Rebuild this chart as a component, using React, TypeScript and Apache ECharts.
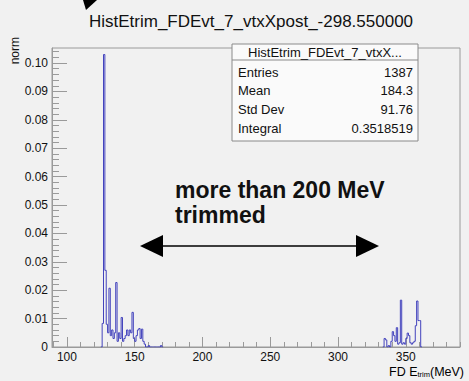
import React, { useEffect, useRef } from 'react';
import * as echarts from 'echarts';

const chartTitle = 'HistEtrim_FDEvt_7_vtxXpost_-298.550000';
const statsTitle = 'HistEtrim_FDEvt_7_vtxX...';
const statsLabels = ['Entries', 'Mean', 'Std Dev', 'Integral'];
const statsValues = ['1387', '184.3', '91.76', '0.3518519'];
const yAxisTitle = 'norm';
const annotationLines = ['more than 200 MeV', 'trimmed'];

const xMin = 89;
const xMax = 390;
const yMin = 0;
const yMax = 0.1053;

const xTicks = [100, 150, 200, 250, 300, 350];
const xMinorTicks = [90, 100, 110, 120, 130, 140, 150, 160, 170, 180, 190, 200, 210, 220, 230, 240, 250, 260, 270, 280, 290, 300, 310, 320, 330, 340, 350, 360, 370, 380, 390];
const yTicks = [0, 0.01, 0.02, 0.03, 0.04, 0.05, 0.06, 0.07, 0.08, 0.09, 0.1];
const yTickLabels = ['0', '0.01', '0.02', '0.03', '0.04', '0.05', '0.06', '0.07', '0.08', '0.09', '0.10'];
const yMinorTicks = [0.002, 0.004, 0.006, 0.008, 0.012, 0.014, 0.016, 0.018, 0.022, 0.024, 0.026, 0.028, 0.032, 0.034, 0.036, 0.038, 0.042, 0.044, 0.046, 0.048, 0.052, 0.054, 0.056, 0.058, 0.062, 0.064, 0.066, 0.068, 0.072, 0.074, 0.076, 0.078, 0.082, 0.084, 0.086, 0.088, 0.092, 0.094, 0.096, 0.098, 0.102, 0.104];

// histogram bins (1 MeV wide)
const binWidth = 1;
const leftStart = 125;
const leftVals = [
  0, 0.0083, 0.103, 0.027, 0.008, 0.005, 0.0207, 0.004, 0.006, 0.003,
  0.005, 0.0227, 0.002, 0.005, 0.003, 0.0104, 0.002, 0.003, 0.004, 0.006,
  0.004, 0.006, 0.005, 0.0122, 0.003, 0.002, 0.004, 0.006, 0.0065, 0.003,
  0.0063, 0.002, 0.001, 0, 0, 0.0005, 0, 0, 0, 0,
  0, 0, 0, 0, 0.0005, 0,
];
const rightStart = 333;
const rightVals = [
  0, 0.003, 0.0025, 0, 0.0005, 0, 0.002, 0.0054, 0.004, 0.002,
  0.0068, 0.001, 0.0015, 0.0165, 0.001, 0.0015, 0.001, 0.003, 0.0049, 0.004,
  0.0015, 0.001, 0.0015, 0.002, 0.0075, 0.0162, 0.0093, 0.0093, 0,
];

const FONT = 'Liberation Sans, Arial, Helvetica, sans-serif';
const HIST_COLOR = '#4343bd';
const FRAME = '#9a9a9a';
const BG = '#f1f1f1';

function toSteps(start: number, vals: number[]) {
  const pts: number[][] = vals.map((v, i) => [start + i * binWidth, v]);
  pts.push([start + vals.length * binWidth, 0]);
  return pts;
}

export default function App() {
  const ref = useRef<HTMLDivElement>(null);
  useEffect(() => {
    document.body.style.margin = '0';
    const chart = echarts.init(ref.current!, null, { renderer: 'svg' });
    const boxX = 232, boxY = 44, boxW = 186, boxH = 97;
    const rowY = [72, 90, 109, 128];
    const statsEls: any[] = [
      { type: 'rect', shape: { x: boxX, y: boxY, width: boxW, height: boxH }, style: { fill: '#fafafa', stroke: '#8a8a8a', lineWidth: 1 } },
      { type: 'line', shape: { x1: boxX, y1: 60, x2: boxX + boxW, y2: 60 }, style: { stroke: '#8a8a8a', lineWidth: 1 } },
      { type: 'text', x: boxX + boxW / 2, y: 52, style: { text: statsTitle, fontSize: 13, fontFamily: FONT, fill: '#111', align: 'center', verticalAlign: 'middle' } },
    ];
    statsLabels.forEach((l, i) => {
      statsEls.push({ type: 'text', x: boxX + 6, y: rowY[i], style: { text: l, fontSize: 13, fontFamily: FONT, fill: '#111', align: 'left', verticalAlign: 'middle' } });
      statsEls.push({ type: 'text', x: boxX + boxW - 5, y: rowY[i], style: { text: statsValues[i], fontSize: 13, fontFamily: FONT, fill: '#111', align: 'right', verticalAlign: 'middle' } });
    });
    const arrowY = 246, aL = 140, aR = 379;
    const option: any = {
      animation: false,
      backgroundColor: BG,
      grid: { left: 52, right: 9, top: 48, bottom: 34, show: true, borderColor: FRAME, borderWidth: 1, backgroundColor: 'transparent' },
      xAxis: [
        {
          type: 'value', min: xMin, max: xMax, position: 'bottom',
          axisLine: { show: true, lineStyle: { color: FRAME } },
          axisTick: { show: true, inside: true, length: 10, customValues: xTicks, lineStyle: { color: FRAME } },
          axisLabel: { customValues: xTicks, fontSize: 12, fontFamily: FONT, color: '#111', margin: 4 },
          splitLine: { show: false },
        },
        {
          type: 'value', min: xMin, max: xMax, position: 'bottom',
          axisLine: { show: false },
          axisTick: { show: true, inside: true, length: 5, customValues: xMinorTicks, lineStyle: { color: FRAME } },
          axisLabel: { show: false },
          splitLine: { show: false },
        },
      ],
      yAxis: [
        {
          type: 'value', min: yMin, max: yMax, position: 'left',
          axisLine: { show: true, lineStyle: { color: FRAME } },
          axisTick: { show: true, inside: true, length: 15, customValues: yTicks, lineStyle: { color: FRAME } },
          axisLabel: {
            customValues: yTicks, fontSize: 12, fontFamily: FONT, color: '#111', margin: 4,
            formatter: (v: number) => {
              const idx = yTicks.findIndex((t) => Math.abs(t - v) < 1e-9);
              return idx >= 0 ? yTickLabels[idx] : '';
            },
          },
          splitLine: { show: false },
        },
        {
          type: 'value', min: yMin, max: yMax, position: 'left',
          axisLine: { show: false },
          axisTick: { show: true, inside: true, length: 7, customValues: yMinorTicks, lineStyle: { color: FRAME } },
          axisLabel: { show: false },
          splitLine: { show: false },
        },
      ],
      series: [
        { type: 'line', step: 'end', symbol: 'none', data: toSteps(leftStart, leftVals), lineStyle: { color: HIST_COLOR, width: 1 }, xAxisIndex: 0, yAxisIndex: 0, z: 5 },
        { type: 'line', step: 'end', symbol: 'none', data: toSteps(rightStart, rightVals), lineStyle: { color: HIST_COLOR, width: 1 }, xAxisIndex: 0, yAxisIndex: 0, z: 5 },
      ],
      graphic: [
        { type: 'text', x: 251, y: 21, style: { text: chartTitle, fontSize: 17, fontFamily: FONT, fill: '#111', align: 'center', verticalAlign: 'middle' } },
        { type: 'polygon', shape: { points: [[83, 0], [97, 0], [86, 10]] }, style: { fill: '#000' } },
        { type: 'text', x: 15, y: 37, rotation: Math.PI / 2, style: { text: yAxisTitle, fontSize: 12, fontFamily: FONT, fill: '#111', align: 'right', verticalAlign: 'middle' } },
        {
          type: 'text', x: 464, y: 372,
          style: {
            text: '{a|FD E}{s|trim}{a|(MeV)}', align: 'right', verticalAlign: 'middle', fontFamily: FONT,
            rich: {
              a: { fontSize: 12.5, fontFamily: FONT, color: '#111', lineHeight: 13, verticalAlign: 'middle' },
              s: { fontSize: 7.5, fontFamily: FONT, color: '#111', lineHeight: 13, verticalAlign: 'bottom' },
            },
          },
        },
        { type: 'text', x: 175, y: 190, style: { text: annotationLines[0], fontSize: 23, fontWeight: 'bold', fontFamily: FONT, fill: '#111', align: 'left', verticalAlign: 'middle' } },
        { type: 'text', x: 175, y: 215, style: { text: annotationLines[1], fontSize: 23, fontWeight: 'bold', fontFamily: FONT, fill: '#111', align: 'left', verticalAlign: 'middle' } },
        { type: 'line', shape: { x1: aL + 20, y1: arrowY, x2: aR - 20, y2: arrowY }, style: { stroke: '#000', lineWidth: 1.5 } },
        { type: 'polygon', shape: { points: [[aL, arrowY], [aL + 23, arrowY - 11], [aL + 23, arrowY + 11]] }, style: { fill: '#000' } },
        { type: 'polygon', shape: { points: [[aR, arrowY], [aR - 23, arrowY - 11], [aR - 23, arrowY + 11]] }, style: { fill: '#000' } },
        ...statsEls,
      ],
    };
    chart.setOption(option);
    return () => chart.dispose();
  }, []);
  return <div ref={ref} style={{ position: 'fixed', left: 0, top: 0, width: 469, height: 381, background: BG }} />;
}
